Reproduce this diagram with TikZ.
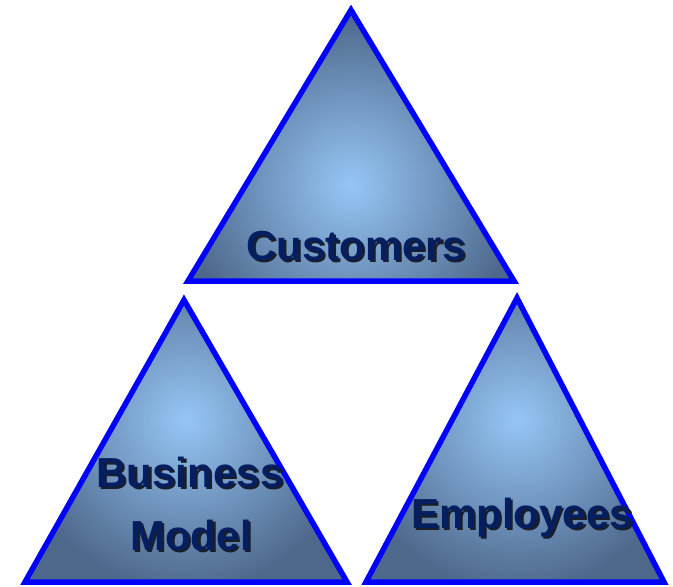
\documentclass[tikz,border=0pt]{standalone}
\usepackage{fontspec}
\setmainfont{Liberation Sans}
\usetikzlibrary{fadings}
\definecolor{rimblue}{RGB}{0,0,255}
\definecolor{glow}{RGB}{150,198,245}
\definecolor{edgeblue}{RGB}{78,104,140}
\definecolor{baseblue}{RGB}{62,82,112}
\definecolor{labelnavy}{RGB}{5,30,95}
\definecolor{shadowgrey}{RGB}{25,30,40}
\tikzset{
  rim/.style={draw=rimblue, line width=5.5pt, line join=miter},
  label/.style={font=\bfseries\fontsize{42}{50}\selectfont, text=labelnavy, inner sep=0pt, anchor=base},
}
% bold label with a dark copy offset behind it
\newcommand\dropshadowed[1]{%
  \makebox[0pt][l]{\hspace{2.2pt}\raisebox{-2.2pt}{\textcolor{shadowgrey}{#1}}}#1}
% shaded triangle: apex, left base corner, right base corner, glow centre, glow radius
\newcommand\glasstri[5]{%
  \begin{scope}
    \clip #1 -- #2 -- #3 -- cycle;
    \fill[edgeblue] #1 -- #2 -- #3 -- cycle;
    \shade[inner color=glow, outer color=edgeblue] #4 circle[radius=#5];
    \path #2 coordinate (bl) #3 coordinate (br);
    \fill[baseblue, path fading=north] ([yshift=-45pt]bl) rectangle (br);
  \end{scope}
  \draw[rim] #1 -- #2 -- #3 -- cycle;
}
\begin{document}
\begin{tikzpicture}[x=1pt, y=-1pt]
  \useasboundingbox (0,0) rectangle (673,587);
  \fill[white] (0,0) rectangle (673,587);

  % three triangles
  \glasstri{(351,10)}{(188,281)}{(514,281)}{(351,185)}{170}
  \glasstri{(184,300)}{(25,582)}{(347,582)}{(186,420)}{170}
  \glasstri{(517,298)}{(366,582)}{(664,582)}{(517,420)}{170}

  % labels
  \node[label] (cust) at (356,260) {\dropshadowed{Customers}};
  \node[label] (bus) at (190,487) {\dropshadowed{Business}};
  \node[label] (mod) at (191,550) {\dropshadowed{Model}};
  \node[label] (emp) at (522,528) {\dropshadowed{Employees}};
\end{tikzpicture}
\end{document}
